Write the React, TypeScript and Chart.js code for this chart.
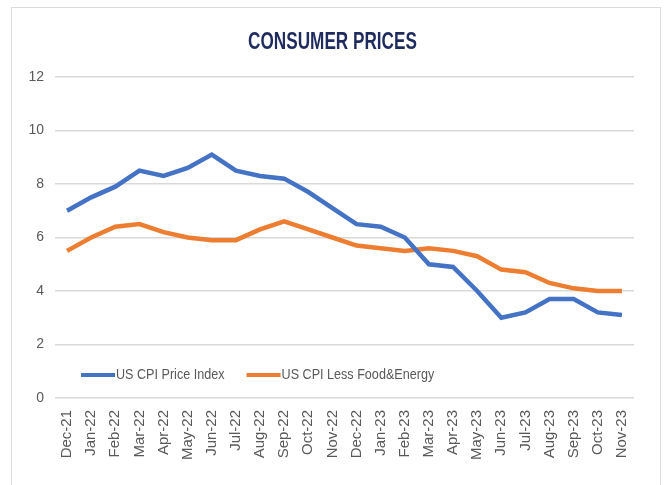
import React, { useEffect, useRef } from "react";
import { Chart, registerables } from "chart.js";

Chart.register(...registerables);

const categories = [
  "Dec-21", "Jan-22", "Feb-22", "Mar-22", "Apr-22", "May-22", "Jun-22", "Jul-22",
  "Aug-22", "Sep-22", "Oct-22", "Nov-22", "Dec-22", "Jan-23", "Feb-23", "Mar-23",
  "Apr-23", "May-23", "Jun-23", "Jul-23", "Aug-23", "Sep-23", "Oct-23", "Nov-23",
];
const cpiAll = [7.0, 7.5, 7.9, 8.5, 8.3, 8.6, 9.1, 8.5, 8.3, 8.2, 7.7, 7.1, 6.5, 6.4, 6.0, 5.0, 4.9, 4.0, 3.0, 3.2, 3.7, 3.7, 3.2, 3.1];
const cpiCore = [5.5, 6.0, 6.4, 6.5, 6.2, 6.0, 5.9, 5.9, 6.3, 6.6, 6.3, 6.0, 5.7, 5.6, 5.5, 5.6, 5.5, 5.3, 4.8, 4.7, 4.3, 4.1, 4.0, 4.0];
const seriesNames = ["US CPI Price Index", "US CPI Less Food&Energy"];
const seriesColors = ["#4472C4", "#ED7D31"];
const titleText = "CONSUMER PRICES";

const SANS = "'Liberation Sans', Arial, sans-serif";

const titlePlugin = {
  id: "narrowTitle",
  afterDraw(chart: any) {
    const { ctx, chartArea } = chart;
    const cx = (chartArea.left + chartArea.right) / 2 - 12;
    ctx.save();
    ctx.translate(cx, 42);
    ctx.scale(0.715, 1);
    ctx.font = `bold 24px ${SANS}`;
    ctx.fillStyle = "#1F2B5E";
    ctx.textAlign = "center";
    ctx.textBaseline = "middle";
    ctx.fillText(titleText, 0, 0);
    ctx.restore();
  },
};

const legendPlugin = {
  id: "insideLegend",
  afterDraw(chart: any) {
    const { ctx, chartArea } = chart;
    const y = chartArea.bottom - 23;
    let x = chartArea.left + 26;
    ctx.save();
    ctx.font = `15px ${SANS}`;
    ctx.textBaseline = "middle";
    ctx.textAlign = "left";
    const sx = 0.84;
    chart.data.datasets.forEach((ds: any) => {
      ctx.strokeStyle = ds.borderColor;
      ctx.lineWidth = 4;
      ctx.lineCap = "butt";
      ctx.beginPath();
      ctx.moveTo(x, y);
      ctx.lineTo(x + 34, y);
      ctx.stroke();
      ctx.fillStyle = "#595959";
      const w = ctx.measureText(ds.label).width * sx;
      ctx.save();
      ctx.translate(x + 35, y);
      ctx.scale(sx, 1);
      ctx.fillText(ds.label, 0, 0);
      ctx.restore();
      x += 35 + w + 22;
    });
    ctx.restore();
  },
};

export default function App() {
  const ref = useRef<HTMLCanvasElement>(null);
  useEffect(() => {
    if (!ref.current) return;
    const chart = new Chart(ref.current, {
      type: "line",
      data: {
        labels: categories,
        datasets: [
          { label: seriesNames[0], data: cpiAll, borderColor: seriesColors[0], backgroundColor: seriesColors[0], borderWidth: 4.5, pointRadius: 0, tension: 0 },
          { label: seriesNames[1], data: cpiCore, borderColor: seriesColors[1], backgroundColor: seriesColors[1], borderWidth: 4.5, pointRadius: 0, tension: 0 },
        ],
      },
      options: {
        animation: false,
        responsive: false,
        layout: { padding: { left: 10, right: 30, top: 77, bottom: 0 } },
        plugins: {
          legend: { display: false },
          tooltip: { enabled: false },
          title: { display: false },
        },
        scales: {
          x: {
            offset: true,
            afterFit: (s: any) => { s.height = 87; },
            grid: { display: false, drawTicks: false },
            border: { display: false },
            ticks: {
              color: "#595959",
              font: { family: SANS, size: 15 },
              maxRotation: 90,
              minRotation: 90,
              autoSkip: false,
              padding: 12,
            },
          },
          y: {
            min: 0,
            max: 12,
            afterFit: (s: any) => { s.width = 45; },
            grid: { color: "#D9D9D9", lineWidth: 1.5, drawTicks: false },
            border: { display: false },
            ticks: {
              stepSize: 2,
              color: "#595959",
              font: { family: SANS, size: 14 },
              padding: 11,
            },
          },
        },
      },
      plugins: [titlePlugin, legendPlugin],
    });
    return () => chart.destroy();
  }, []);
  return (
    <div style={{ position: "fixed", left: 0, top: 0, width: 664, height: 485, background: "#fff", overflow: "hidden" }}>
      <div style={{ position: "absolute", left: 11, top: 7, width: 650, height: 500, border: "1.5px solid #DCDCDC", boxSizing: "border-box" }} />
      <canvas ref={ref} width={664} height={485} style={{ position: "absolute", left: 0, top: 0 }} />
    </div>
  );
}
